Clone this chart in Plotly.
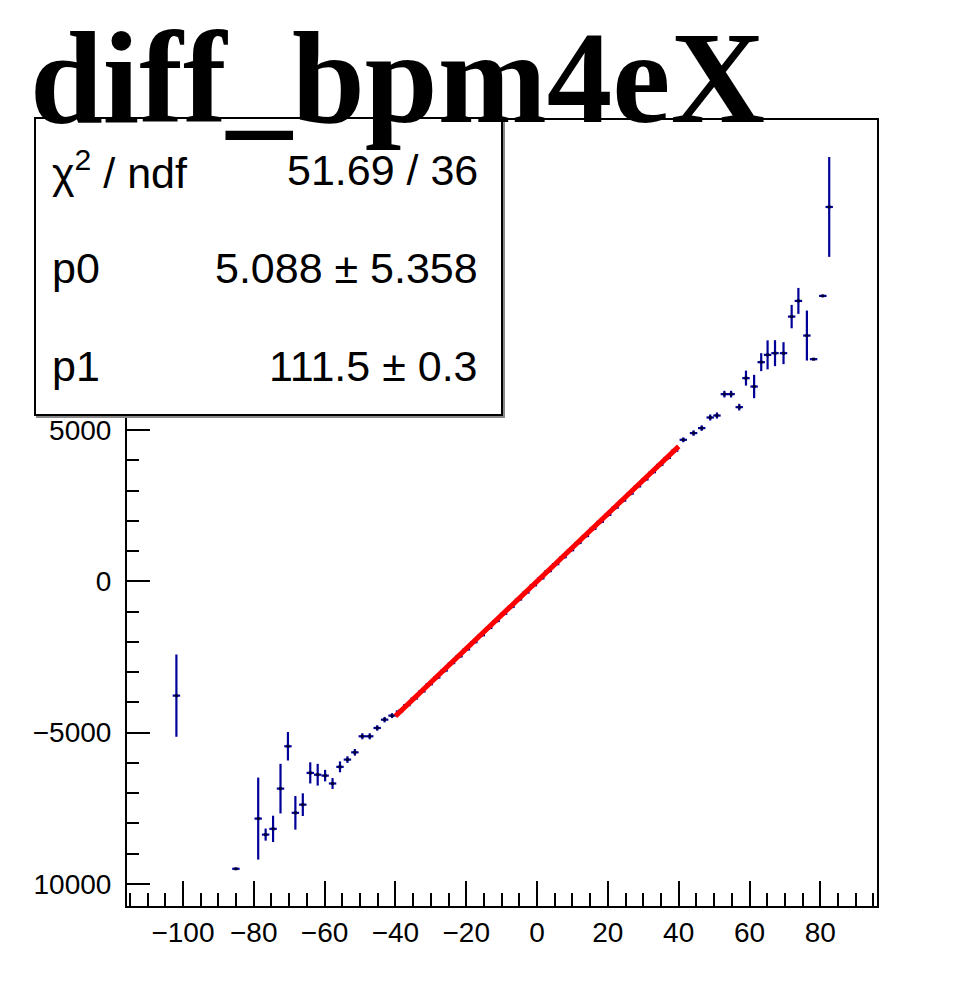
import plotly.graph_objects as go

# ---------------- data ----------------
x_left = [-101.85, -85.05, -78.75, -76.65, -74.55, -72.45, -70.35, -68.25, -66.15,
          -64.05, -61.95, -59.85, -57.75, -55.65, -53.55, -51.45, -49.35, -47.25,
          -45.15, -43.05, -40.95]
y_left = [-3776, -9500, -7840, -8370, -8180, -6850, -5450, -7650, -7380,
          -6330, -6390, -6420, -6680, -6130, -5890, -5650, -5120, -5120,
          -4845, -4570, -4437]
e_left = [1360, 0, 1355, 200, 435, 820, 470, 555, 375,
          350, 360, 190, 180, 180, 110, 110, 100, 100,
          90, 90, 80]

x_mid = [-38.85, -36.75, -34.65, -32.55, -30.45, -28.35, -26.25, -24.15, -22.05, -19.95,
         -17.85, -15.75, -13.65, -11.55, -9.45, -7.35, -5.25, -3.15, -1.05, 1.05,
         3.15, 5.25, 7.35, 9.45, 11.55, 13.65, 15.75, 17.85, 19.95, 22.05,
         24.15, 26.25, 28.35, 30.45, 32.55, 34.65, 36.75, 38.85]
y_mid = [-4300, -4090, -3870, -3640, -3400, -3180, -2950, -2700, -2480, -2250,
         -2010, -1780, -1540, -1310, -1070, -840, -600, -370, -130, 100,
         340, 570, 800, 1030, 1270, 1500, 1740, 1970, 2200, 2440,
         2670, 2900, 3140, 3370, 3610, 3850, 4080, 4320]
e_mid = [70, 65, 60, 60, 60, 55, 55, 55, 50, 50,
         50, 50, 50, 50, 50, 50, 50, 50, 50, 50,
         50, 50, 50, 50, 50, 50, 50, 50, 50, 55,
         55, 55, 55, 60, 60, 60, 65, 70]

x_right = [41.3, 44.2, 46.5, 48.9, 50.8, 52.9, 54.8, 57.1, 59.0, 61.3,
           63.3, 65.1, 67.2, 69.6, 71.9, 73.8, 76.2, 78.1, 80.7, 82.5]
y_right = [4681, 4903, 5068, 5418, 5484, 6191, 6191, 5761, 6720, 6442,
           7248, 7489, 7545, 7545, 8754, 9273, 8127, 7347, 9438, 12378]
e_right = [80, 90, 90, 100, 100, 110, 110, 110, 248, 386,
           297, 479, 429, 363, 386, 429, 826, 0, 0, 1650]

bin_half_width = 1.05

# fit result (from the stats box)
p0, p0_err = 5.088, 5.358
p1, p1_err = 111.5, 0.3
chi2, ndf = 51.69, 36
fit_range = [-40.0, 40.0]

title_text = "diff_bpm4eX"
x_tickvals = [-100, -80, -60, -40, -20, 0, 20, 40, 60, 80]
x_ticktext = ["\u2212100", "\u221280", "\u221260", "\u221240", "\u221220",
              "0", "20", "40", "60", "80"]
y_tickvals = [-10000, -5000, 0, 5000]
y_ticktext = ["10000", "\u22125000", "0", "5000"]

# ---------------- figure ----------------
OFF = 8  # page body margin of the html document
W, H = 961 - OFF, 983 - OFF
L, R, T, B = 127 - OFF, 877 - OFF, 120 - OFF, 906 - OFF


def xp(px):
    """reference-window pixel -> paper fraction"""
    return (px - OFF - L) / (R - L)


def yp(py):
    return (B - (py - OFF)) / (B - T)


xs = x_left + x_mid + x_right
ys = y_left + y_mid + y_right
es = e_left + e_mid + e_right

navy = "#000099"
fig = go.Figure()
fig.add_trace(go.Scatter(
    x=xs, y=ys, mode="markers",
    marker=dict(size=3, color="#000033", symbol="square"),
    error_x=dict(type="data", array=[bin_half_width] * len(xs), width=0,
                 thickness=2.2, color=navy),
    error_y=dict(type="data", array=es, width=0, thickness=2.2, color=navy),
    showlegend=False, hoverinfo="x+y",
))

fx = [fit_range[0], fit_range[1]]
fy = [p0 + p1 * v for v in fx]
fig.add_trace(go.Scatter(x=fx, y=fy, mode="lines",
                         line=dict(color="#ff0000", width=5),
                         showlegend=False))

axis_common = dict(
    showgrid=False, zeroline=False, showline=True, linecolor="black",
    linewidth=2, mirror=True, ticks="inside", tickcolor="black",
    tickwidth=2, tickfont=dict(family="Liberation Sans", size=28, color="black"),
)
fig.update_xaxes(range=[-115.8, 96.0], tickmode="array", tickvals=x_tickvals,
                 ticktext=x_ticktext, ticklen=25,
                 minor=dict(dtick=5, tick0=0, ticklen=13, tickwidth=2,
                            tickcolor="black", ticks="inside"),
                 **axis_common)
fig.update_yaxes(range=[-10730, 15253], tickmode="array", tickvals=y_tickvals,
                 ticktext=y_ticktext, ticklen=23, ticklabelstandoff=8,
                 minor=dict(dtick=1000, tick0=0, ticklen=12, tickwidth=2,
                            tickcolor="black", ticks="inside"),
                 **axis_common)

# stats box (with slight shadow)
bx0, bx1, by0, by1 = 35, 502, 118, 415
fig.add_shape(type="rect", xref="paper", yref="paper",
              x0=xp(bx0 + 2), x1=xp(bx1 + 2), y0=yp(by1 + 2), y1=yp(by0 + 2),
              line=dict(color="#888888", width=2), fillcolor="#888888", layer="above")
fig.add_shape(type="rect", xref="paper", yref="paper",
              x0=xp(bx0), x1=xp(bx1), y0=yp(by1), y1=yp(by0),
              line=dict(color="black", width=2), fillcolor="white", layer="above")

stat_font = dict(family="Liberation Sans", size=43, color="black")
rows = [
    ("\u03c7<sup>2</sup> / ndf", f"{chi2:.2f} / {ndf}", 170),
    ("p0", f"{p0:.3f} \u00b1 {p0_err:.3f}", 268),
    ("p1", f"{p1:.1f} \u00b1 {p1_err:.1f}", 366),
]
for lab, val, cy in rows:
    fig.add_annotation(xref="paper", yref="paper", x=xp(50), y=yp(cy),
                       xanchor="left", yanchor="middle", text=lab,
                       showarrow=False, font=stat_font)
    fig.add_annotation(xref="paper", yref="paper", x=xp(480), y=yp(cy),
                       xanchor="right", yanchor="middle", text=val,
                       showarrow=False, font=stat_font)

# title
fig.add_annotation(xref="paper", yref="paper", x=xp(28), y=yp(152),
                   xanchor="left", yanchor="bottom", text="<b>" + title_text + "</b>",
                   showarrow=False,
                   font=dict(family="Liberation Serif", size=131, color="black"))

fig.update_layout(
    width=W, height=H, paper_bgcolor="white", plot_bgcolor="white",
    margin=dict(l=L, r=W - R, t=T, b=H - B, autoexpand=False),
)

fig.write_html("out.html")
